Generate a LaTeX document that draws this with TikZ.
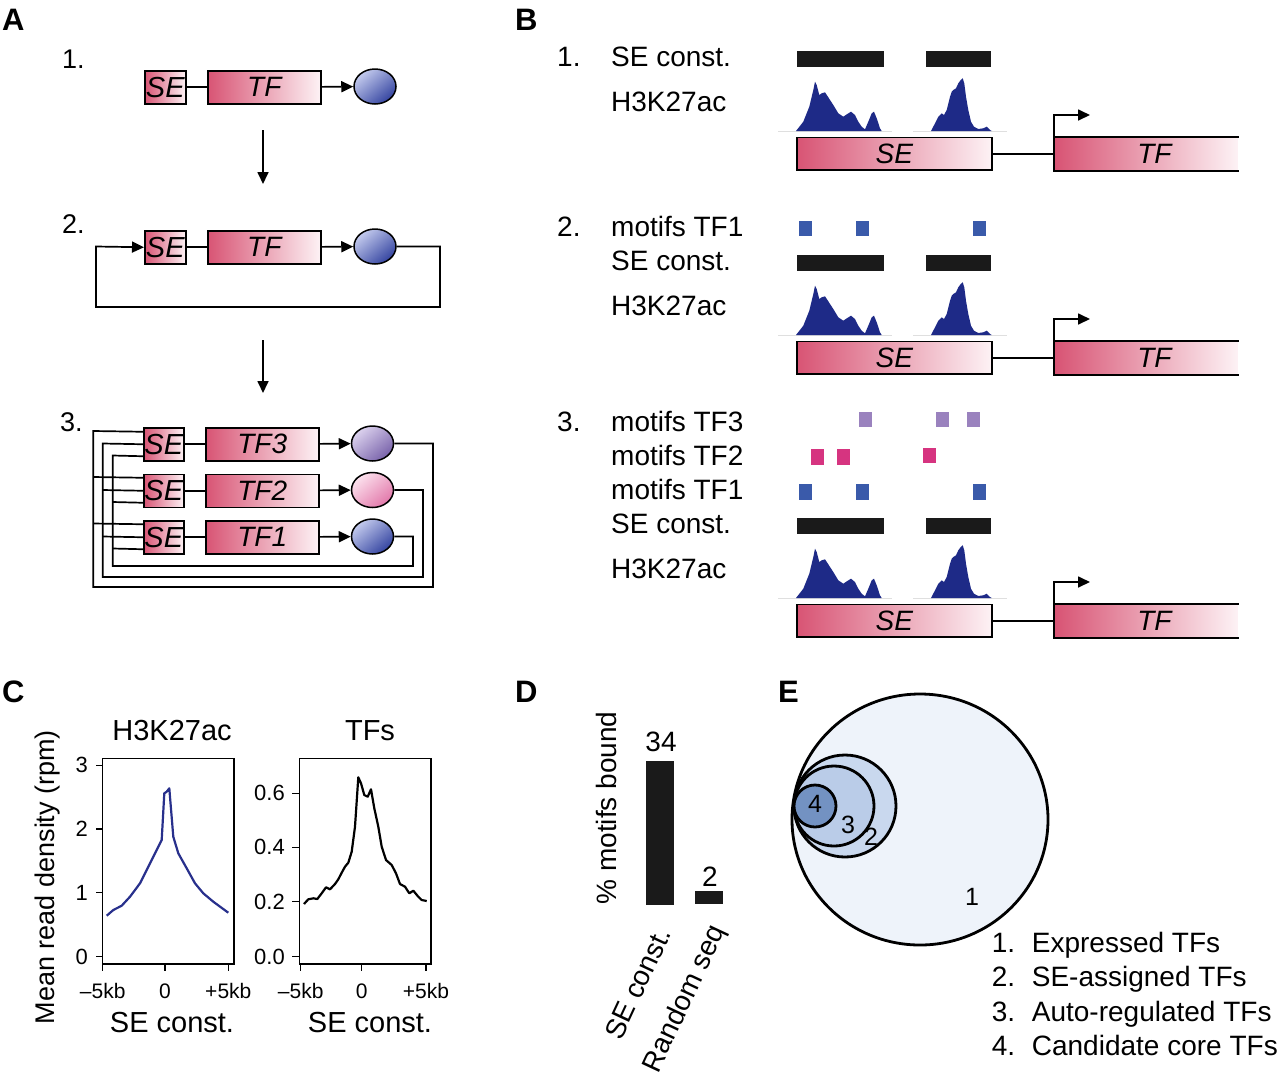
\documentclass[tikz,border=0pt]{standalone}
\usepackage{fontspec}
\setmainfont{Liberation Sans}
\usetikzlibrary{arrows.meta,shapes.geometric}
\definecolor{pinkL}{RGB}{216,84,116}
\definecolor{pinkR}{RGB}{253,242,245}
\definecolor{barc}{RGB}{26,26,26}
\definecolor{peakc}{RGB}{30,42,135}
\definecolor{mblue}{RGB}{58,90,170}
\definecolor{mmag}{RGB}{214,52,128}
\definecolor{mpur}{RGB}{154,130,190}
\definecolor{navy}{RGB}{40,48,140}
\definecolor{eA}{RGB}{238,243,250}
\definecolor{eB}{RGB}{201,216,238}
\definecolor{eC}{RGB}{186,204,232}
\definecolor{eD}{RGB}{115,146,194}
\definecolor{blueLt}{RGB}{196,203,238}
\definecolor{blueDk}{RGB}{52,68,160}
\definecolor{purLt}{RGB}{220,210,238}
\definecolor{purDk}{RGB}{120,98,170}
\definecolor{pkLt}{RGB}{252,226,238}
\definecolor{pkDk}{RGB}{226,120,170}
\newcommand\fsz[1]{\fontsize{#1}{#1}\selectfont}
\newcommand\sq[3]{\fill[#1] (#2,#3) rectangle ++(13,15.5);}
\newcommand\BRow{%
 \fill[barc] (797.3,50.7) rectangle (884.3,66.7);
 \fill[barc] (925.7,50.7) rectangle (990.7,66.7);
 \draw[gray!25,line width=1pt] (778,131) -- (892,131) (913,131) -- (1007,131);
 \fill[peakc] plot coordinates {(796,131) (803.3,121.7) (809.3,106.7) (813.3,90) (815,81.7) (816.7,85) (819.3,95) (821.7,93.3) (825,92.3) (828.3,97.3) (833.3,105) (838.3,113.3) (843.3,116.7) (847.3,114) (851,111.7) (855,115) (858.3,121.7) (861.7,126.7) (865,129.3) (868.3,121.7) (871.7,113.3) (874,111.7) (876.7,118.3) (880,128.3) (881.7,131)} -- cycle;
 \fill[peakc] plot coordinates {(931,131) (935,123.3) (938.3,116.7) (941.7,113.3) (944,115) (946.7,110) (950,96.7) (951.7,91.7) (953.3,90) (956,88.3) (958.3,83.3) (960.7,80) (962.7,78.3) (964.3,83.3) (966,96.7) (968.3,110) (971,121.7) (974,126.7) (978.3,129) (983.3,128.3) (986.7,126.7) (990,130) (991.7,131)} -- cycle;
 \node[bigbox, draw, minimum width=195pt] (se) at (796,136.7) {SE};
 \node[bigbox, minimum width=183pt] (tf) at (1054,136.7) {\hspace*{16pt}TF};
 \draw[ln] (tf.north east) -- (tf.north west) -- (tf.south west) -- (tf.south east);
 \draw[ln] (se.east) -- (tf.west);
 \coordinate (prom) at (1090,115);
 \draw[arr] (tf.north west) |- (prom);
 \node[lbl, anchor=base west] (sec) at (611,66) {SE const.};
 \node[lbl, anchor=base west] (h3) at (611,111) {H3K27ac};
}
\begin{document}
\begin{tikzpicture}[x=1pt,y=-1pt,
 lbl/.style={inner sep=0pt, font=\fsz{28}},
 panel/.style={inner sep=0pt, anchor=base west, font=\fsz{31}\bfseries},
 ln/.style={line width=1.7pt},
 arr/.style={ln, -{Triangle[length=12pt,width=11pt]}},
 gbox/.style={draw, line width=1.5pt, left color=pinkL, right color=pinkR, inner sep=0pt, anchor=north west, minimum height=33pt, font=\fsz{29}\itshape},
 bigbox/.style={left color=pinkL, right color=pinkR, inner sep=0pt, anchor=north west, minimum height=32.5pt, font=\fsz{28}\itshape, line width=1.7pt},
 blob/.style={ellipse, draw, line width=1.5pt, minimum width=42pt, minimum height=35pt, inner sep=0pt},
 bblue/.style={top color=blueLt, bottom color=blueDk, shading angle=40},
 bpur/.style={top color=purLt, bottom color=purDk, shading angle=40},
 bpink/.style={top color=pkLt, bottom color=pkDk, shading angle=40},
 tick/.style={line width=1.3pt},
 tl/.style={inner sep=0pt, font=\fsz{22}},
]
\useasboundingbox (0,0) rectangle (1280,1080);

% ---------------- Panel A
\node[panel] (lA) at (2,30) {A};
\node[lbl, anchor=base west, font=\fsz{27}] (n1) at (62,68) {1.};
\node[gbox, minimum width=41pt] (se1) at (144,70) {SE};
\node[gbox, minimum width=113pt, font=\fsz{28}\itshape] (tf1) at (207,70) {TF};
\node[blob, bblue] (p1) at (375,86.5) {};
\draw[ln] (se1) -- (tf1);
\draw[arr] (tf1) -- (p1);
\coordinate (d1a) at (263,130); \coordinate (d1b) at (263,184);
\draw[arr] (d1a) -- (d1b);

\node[lbl, anchor=base west, font=\fsz{27}] (n2) at (62,233) {2.};
\node[gbox, minimum width=41pt] (se2) at (144,230) {SE};
\node[gbox, minimum width=113pt, font=\fsz{28}\itshape] (tf2) at (207,230) {TF};
\node[blob, bblue] (p2) at (375,246.5) {};
\draw[ln] (se2) -- (tf2);
\draw[arr] (tf2) -- (p2);
\draw[arr] (p2.east) -- (440,246.5) -- (440,307) -- (96,307) -- (96,246.5) -- (se2.west);
\coordinate (d2a) at (263,340); \coordinate (d2b) at (263,393);
\draw[arr] (d2a) -- (d2b);

\node[lbl, anchor=base west, font=\fsz{27}] (n3) at (60,431) {3.};
\node[gbox, minimum width=40pt] (sA) at (143,427) {SE};
\node[gbox, minimum width=113pt, font=\fsz{28}\itshape] (tA) at (205,427) {TF3};
\node[blob, bpur] (pA) at (372.5,443.5) {};
\node[gbox, minimum width=40pt] (sB) at (143,473.5) {SE};
\node[gbox, minimum width=113pt, font=\fsz{28}\itshape] (tB) at (205,473.5) {TF2};
\node[blob, bpink] (pB) at (372.5,490) {};
\node[gbox, minimum width=40pt] (sC) at (143,520) {SE};
\node[gbox, minimum width=113pt, font=\fsz{28}\itshape] (tC) at (205,520) {TF1};
\node[blob, bblue] (pC) at (372.5,536.5) {};
\foreach \a/\b/\c in {sA/tA/pA, sB/tB/pB, sC/tC/pC}{
  \draw[ln] (\a) -- (\b);
  \draw[arr] (\b) -- (\c);
}
% outer loop (TF3)
\draw[ln] (pA.east) -| (433,587) -| (93.3,431) -- ([yshift=12.5pt]sA.west);
\draw[ln] (93.3,477) -- ([yshift=13pt]sB.west);
\draw[ln] (93.3,523.5) -- ([yshift=13pt]sC.west);
% middle loop (TF2)
\draw[ln] (pB.east) -| (423,577) -| (102.7,443.5) -- (sA.west);
\draw[ln] (102.7,490) -- (sB.west);
\draw[ln] (102.7,536.5) -- (sC.west);
% inner loop (TF1)
\draw[ln] (pC.east) -| (413,566) -| (112.7,455.5) -- ([yshift=-12pt]sA.west);
\draw[ln] (112.7,502) -- ([yshift=-12pt]sB.west);
\draw[ln] (112.7,548.5) -- ([yshift=-12pt]sC.west);

% ---------------- Panel B
\node[panel] (lB) at (515,30) {B};
\node[lbl, anchor=base west] (bn1) at (557,66) {1.};
\begin{scope}[name prefix=r1-]
\BRow
\end{scope}

\node[lbl, anchor=base west] (bn2) at (557,236) {2.};
\begin{scope}[shift={(0,204)}, name prefix=r2-]
\BRow
\node[lbl, anchor=base west] (m1) at (611,32) {motifs TF1};
\sq{mblue}{799.3}{16.5} \sq{mblue}{856}{16.5} \sq{mblue}{973}{16.5}
\end{scope}

\node[lbl, anchor=base west] (bn3) at (557,431) {3.};
\begin{scope}[shift={(0,467)}, name prefix=r3-]
\BRow
\node[lbl, anchor=base west] (m1) at (611,32) {motifs TF1};
\node[lbl, anchor=base west] (m2) at (611,-2) {motifs TF2};
\node[lbl, anchor=base west] (m3) at (611,-36) {motifs TF3};
\sq{mblue}{799.3}{17} \sq{mblue}{856}{17} \sq{mblue}{973}{17}
\sq{mmag}{811}{-17.7} \sq{mmag}{837.3}{-17.7} \sq{mmag}{923}{-19.3}
\sq{mpur}{859.3}{-55.3} \sq{mpur}{935.7}{-55.3} \sq{mpur}{966.7}{-55.3}
\end{scope}

% ---------------- Panel C
\node[panel] (lC) at (2,702) {C};
\node[lbl, rotate=90, font=\fsz{27}] (ylab) at (48,877) {Mean read density (rpm)};
% plot 1
\draw[tick] (102.7,758.3) rectangle (234,964);
\foreach \yy/\t in {765.3/3, 829/2, 892.7/1, 956.7/0}{
  \draw[tick] (102.7,\yy) -- (95.7,\yy);
  \node[tl, anchor=east] at (88,\yy) {\t};
}
\foreach \xx/\t in {102.7/{--5kb}, 165/0, 228.3/{+5kb}}{
  \draw[tick] (\xx,964) -- (\xx,971);
  \node[tl, font=\fsz{21}] at (\xx,991) {\t};
}
\node[lbl, font=\fsz{29}] (t1) at (172,731) {H3K27ac};
\node[lbl, font=\fsz{29}] (x1) at (172,1023) {SE const.};
\draw[navy, line width=2.2pt, line join=round] plot coordinates {(106.7,915.7) (113.3,910) (121.7,905.7) (130,896.7) (140,883.3) (150,863.3) (158.3,846.7) (161.7,840) (164.3,793.3) (166.7,791.7) (169.3,788.3) (173.3,836.7) (178.3,853.3) (186.7,868.3) (195,883.3) (203.3,893.3) (213.3,901.7) (228.3,912.7)};
% plot 2
\draw[tick] (299.3,758.3) rectangle (431,964);
\foreach \yy/\t in {793.3/0.6, 847.3/0.4, 901.7/0.2, 956.7/0.0}{
  \draw[tick] (299.3,\yy) -- (292.3,\yy);
  \node[tl, anchor=east] at (285,\yy) {\t};
}
\foreach \xx/\t in {300.7/{--5kb}, 361.7/0, 426/{+5kb}}{
  \draw[tick] (\xx,964) -- (\xx,971);
  \node[tl, font=\fsz{21}] at (\xx,991) {\t};
}
\node[lbl, font=\fsz{29}] (t2) at (370,731) {TFs};
\node[lbl, font=\fsz{29}] (x2) at (370,1023) {SE const.};
\draw[black, line width=2.2pt, line join=round] plot coordinates {(304,904) (308.3,899.3) (313.3,898.3) (317.3,899) (321.7,893.3) (326,887.3) (330,889.3) (335,884) (338.3,879.3) (341.7,872.7) (345,866.7) (348.3,862.7) (351.7,851.7) (355,826.7) (358.3,777.3) (361,783.3) (364.3,795) (367.7,796.7) (371,789.3) (374.3,808.3) (378.3,826.7) (381.7,846.7) (386,860) (391.7,865) (396,873.3) (400,884) (405,886.7) (409.3,893.3) (413.3,890.7) (417.7,896) (421.7,900) (426.7,901)};

% ---------------- Panel D
\node[panel] (lD) at (515,702) {D};
\node[lbl, rotate=90] (dy) at (606,808) {\% motifs bound};
\fill[barc] (645.7,761) rectangle (674,905);
\fill[barc] (695,891) rectangle (723.3,904);
\node[lbl] (v1) at (661,742) {34};
\node[lbl] (v2) at (710,877) {2};
\node[lbl, rotate=65, anchor=east] (c1) at (663,929) {SE const.};
\node[lbl, rotate=65, anchor=east] (c2) at (719,927) {Random seq};

% ---------------- Panel E
\node[panel] (lE) at (778,702) {E};
\draw[line width=2.8pt, fill=eA] (920,819.5) ellipse[x radius=128pt, y radius=125.5pt];
\draw[line width=2.8pt, fill=eB] (845,806) circle[radius=51pt];
\draw[line width=2.8pt, fill=eC] (834,806) circle[radius=40pt];
\draw[line width=2.8pt, fill=eD] (815,806) circle[radius=21pt];
\node[lbl, font=\fsz{25}] (e4) at (815,804) {4};
\node[lbl, font=\fsz{25}] (e3) at (848,825) {3};
\node[lbl, font=\fsz{25}] (e2) at (871,837) {2};
\node[lbl, font=\fsz{25}] (e1) at (972,897) {1};
\node[lbl, anchor=base west] (L1) at (991.7,952.3) {\makebox[40pt][l]{1.}Expressed TFs};
\node[lbl, anchor=base west] (L2) at (991.7,986.7) {\makebox[40pt][l]{2.}SE-assigned TFs};
\node[lbl, anchor=base west] (L3) at (991.7,1021) {\makebox[40pt][l]{3.}Auto-regulated TFs};
\node[lbl, anchor=base west] (L4) at (991.7,1055.7) {\makebox[40pt][l]{4.}Candidate core TFs};
\end{tikzpicture}
\end{document}
